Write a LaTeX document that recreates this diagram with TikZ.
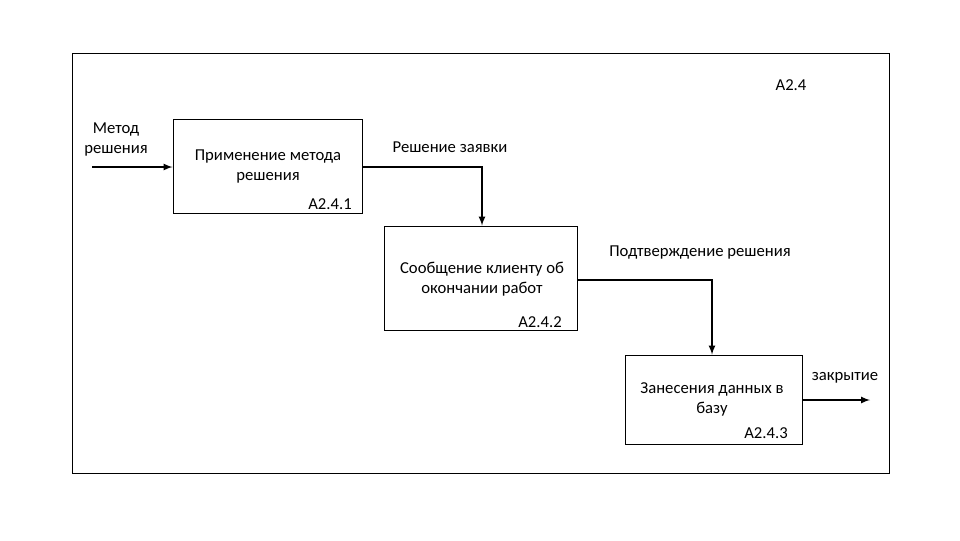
\documentclass[tikz,border=0pt]{standalone}
\usepackage{fontspec}
\setmainfont{Carlito}
\begin{document}
\begin{tikzpicture}[x=0.75pt,y=-0.75pt,
  box/.style={draw,line width=0.7pt},
  lbl/.style={font=\fontsize{12.5}{15}\selectfont,align=center,inner sep=0},
  arr/.style={draw,line width=1.3pt,-latex}]
\useasboundingbox (0,0) rectangle (960,540);
\draw[line width=0.7pt] (72,53) rectangle (889,473);
\node[lbl] (t) at (791,85) {A2.4};
\node[box,minimum width=189*0.75pt,minimum height=94*0.75pt] (b1) at (267.5,166) {};
\node[lbl] (b1t) at (268,166) {Применение метода\\решения};
\node[lbl] (b1n) at (330,204) {A2.4.1};
\node[box,minimum width=193*0.75pt,minimum height=104*0.75pt] (b2) at (480.5,278) {};
\node[lbl] (b2t) at (482,279) {Сообщение клиенту об\\окончании работ};
\node[lbl] (b2n) at (540,322) {A2.4.2};
\node[box,minimum width=177*0.75pt,minimum height=89*0.75pt] (b3) at (713.5,399.5) {};
\node[lbl] (b3t) at (712,399) {Занесения данных в\\базу};
\node[lbl] (b3n) at (766,433) {A2.4.3};
\coordinate (in) at (92,167);
\node[lbl] (inl) at (116,139) {Метод\\решения};
\draw[arr] (in) -- (b1.west |- in);
\node[lbl] (l1) at (450,147) {Решение заявки};
\draw[arr] (b1.east |- in) -| (b2.north -| 482,0);
\node[lbl] (l2) at (700,253) {Подтверждение решения};
\draw[arr] (b2.east |- 0,280) -| (b3.north -| 712,0);
\coordinate (out) at (870,400);
\node[lbl] (ol) at (845,378) {закрытие};
\draw[arr] (b3.east |- out) -- (out);
\end{tikzpicture}
\end{document}
